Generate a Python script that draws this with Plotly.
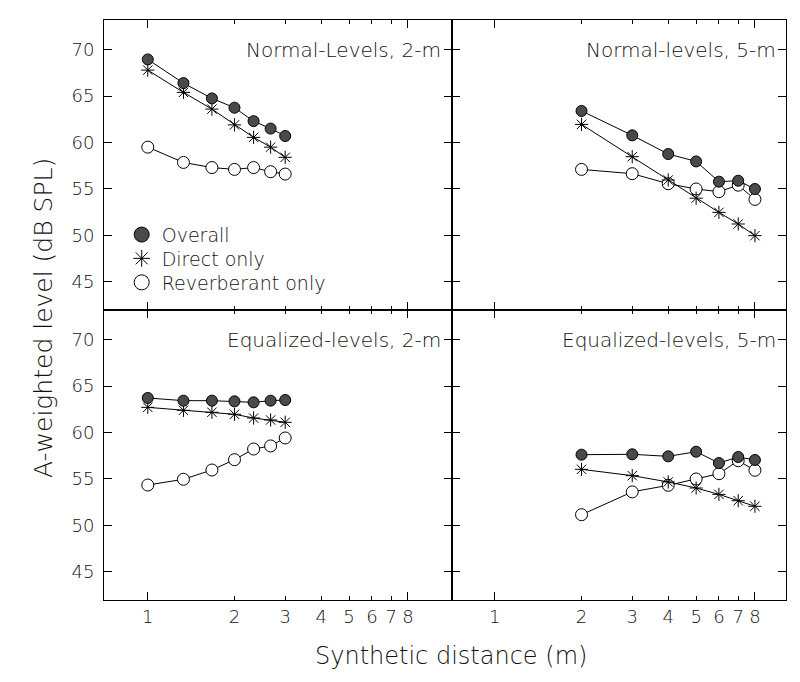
import plotly.graph_objects as go
from plotly.subplots import make_subplots

# ---- data ----
dist_2m = [1, 1.33, 1.67, 2, 2.33, 2.67, 3]
dist_5m = [2, 3, 4, 5, 6, 7, 8]

panel_titles = ["Normal-Levels, 2-m", "Normal-levels, 5-m",
                "Equalized-levels, 2-m", "Equalized-levels, 5-m"]

# Normal levels, 2-m
n2_overall = [68.95, 66.4, 64.75, 63.75, 62.3, 61.5, 60.7]
n2_direct = [67.8, 65.4, 63.6, 61.9, 60.55, 59.5, 58.4]
n2_reverb = [59.5, 57.85, 57.3, 57.1, 57.3, 56.85, 56.6]
# Normal levels, 5-m
n5_overall = [63.4, 60.77, 58.76, 57.96, 55.78, 55.88, 54.99]
n5_direct = [61.95, 58.47, 55.96, 54.0, 52.47, 51.22, 49.96]
n5_reverb = [57.1, 56.64, 55.56, 54.99, 54.7, 55.4, 53.87]
# Equalized levels, 2-m
e2_overall = [63.72, 63.43, 63.43, 63.36, 63.25, 63.43, 63.5]
e2_direct = [62.71, 62.39, 62.18, 61.96, 61.56, 61.35, 61.1]
e2_reverb = [54.34, 54.96, 55.96, 57.07, 58.22, 58.55, 59.41]
# Equalized levels, 5-m
e5_overall = [57.61, 57.65, 57.43, 57.93, 56.71, 57.36, 57.04]
e5_direct = [56.03, 55.35, 54.67, 54.02, 53.33, 52.65, 52.05]
e5_reverb = [51.14, 53.6, 54.31, 54.99, 55.56, 56.96, 55.93]

series_names = ["Overall", "Direct only", "Reverberant only"]
x_tickvals = [1, 2, 3, 4, 5, 6, 7, 8]
x_ticktext = ["1", "2", "3", "4", "5", "6", "7", "8"]
y_tickvals = [45, 50, 55, 60, 65, 70]

FONT = "DejaVu Sans"
TXT = "#111111"
W, H = 800, 682
ML, MR, MT, MB = 96, 22, 12, 90
PH = H - MT - MB
PW = W - ML - MR

styles = [
    dict(symbol="circle", size=11, color="#4a4a4a", line=dict(color="black", width=1)),
    dict(symbol="asterisk-open", size=11, color="black", line=dict(color="black", width=1)),
    dict(symbol="circle", size=12, color="white", line=dict(color="black", width=1)),
]

fig = make_subplots(rows=2, cols=2, horizontal_spacing=0, vertical_spacing=0,
                    column_widths=[1.207, 1.161])

panels = [
    (1, 1, dist_2m, [n2_overall, n2_direct, n2_reverb]),
    (1, 2, dist_5m, [n5_overall, n5_direct, n5_reverb]),
    (2, 1, dist_2m, [e2_overall, e2_direct, e2_reverb]),
    (2, 2, dist_5m, [e5_overall, e5_direct, e5_reverb]),
]

for r, c, xs, ys_list in panels:
    for k in [2, 1, 0]:
        fig.add_trace(go.Scatter(
            x=xs, y=ys_list[k], mode="lines+markers",
            line=dict(color="black", width=1),
            marker=styles[k], showlegend=False, name=series_names[k]),
            row=r, col=c)

# legend entries (one legend box per row so spacing can be set)
leg_sizes = [15, 14, 15]
leg_names = ["legend", "legend2", "legend3"]
for k in range(3):
    st = dict(styles[k])
    st["size"] = leg_sizes[k]
    fig.add_trace(go.Scatter(x=[None], y=[None], mode="markers", marker=st,
                             name=series_names[k], showlegend=True,
                             legend=leg_names[k]),
                  row=1, col=1)

for i, (r, c) in enumerate([(1, 1), (1, 2), (2, 1), (2, 2)]):
    xr = [-0.152, 1.055] if c == 1 else [-0.150, 1.011]
    fig.update_xaxes(
        type="log", range=xr, row=r, col=c,
        tickvals=x_tickvals, ticktext=x_ticktext,
        showticklabels=(r == 2),
        ticks="inside", ticklen=4, tickcolor="black", tickwidth=1,
        minor=dict(tickvals=[1, 8], ticks="inside", ticklen=8, tickcolor="black"),
        showline=True, linecolor="black", linewidth=1, mirror="ticks",
        showgrid=False, zeroline=False,
        tickfont=dict(family=FONT, size=18, color=TXT, weight=200),
    )
    fig.update_yaxes(
        range=[41.95, 73.2], row=r, col=c,
        tickvals=y_tickvals, showticklabels=(c == 1),
        ticks="inside", ticklen=8, tickcolor="black", tickwidth=1,
        showline=True, linecolor="black", linewidth=1, mirror="ticks",
        showgrid=False, zeroline=False, ticklabelstandoff=5,
        tickfont=dict(family=FONT, size=18, color=TXT, weight=200),
    )
    suffix = "" if i == 0 else str(i + 1)
    fig.add_annotation(
        text=panel_titles[i], xref=f"x{suffix} domain", yref=f"y{suffix} domain",
        x=0.975, y=1 - 29.5 / 290, xanchor="right", yanchor="middle", showarrow=False,
        font=dict(family=FONT, size=20, color=TXT, weight=200))

fig.add_annotation(text="Synthetic distance (m)", xref="paper", yref="paper",
                   x=(442.7 - ML) / PW, y=-(648 - 592.3) / PH,
                   xanchor="center", yanchor="middle", showarrow=False,
                   font=dict(family=FONT, size=24, color=TXT, weight=200))
fig.add_annotation(text="A-weighted level (dB SPL)", xref="paper", yref="paper",
                   x=(35 - ML) / PW, y=1 - (310 - MT) / PH,
                   xanchor="center", yanchor="middle", textangle=-90,
                   showarrow=False, font=dict(family=FONT, size=25, color=TXT, weight=200))

leg_common = dict(xanchor="left", yanchor="middle", bgcolor="rgba(0,0,0,0)",
                  borderwidth=0, font=dict(family=FONT, size=19, color=TXT, weight=200))
leg_y = [226.7, 250.5, 274.5]
legend_layout = {}
for k, nm in enumerate(leg_names):
    legend_layout[nm] = dict(x=(113.7 - ML) / PW,
                             y=1 - (leg_y[k] - MT) / PH, **leg_common)

fig.update_layout(
    width=W, height=H,
    margin=dict(l=ML, r=MR, t=MT, b=MB),
    paper_bgcolor="white", plot_bgcolor="white",
    showlegend=True,
    **legend_layout,
)

fig.write_html("out.html")
